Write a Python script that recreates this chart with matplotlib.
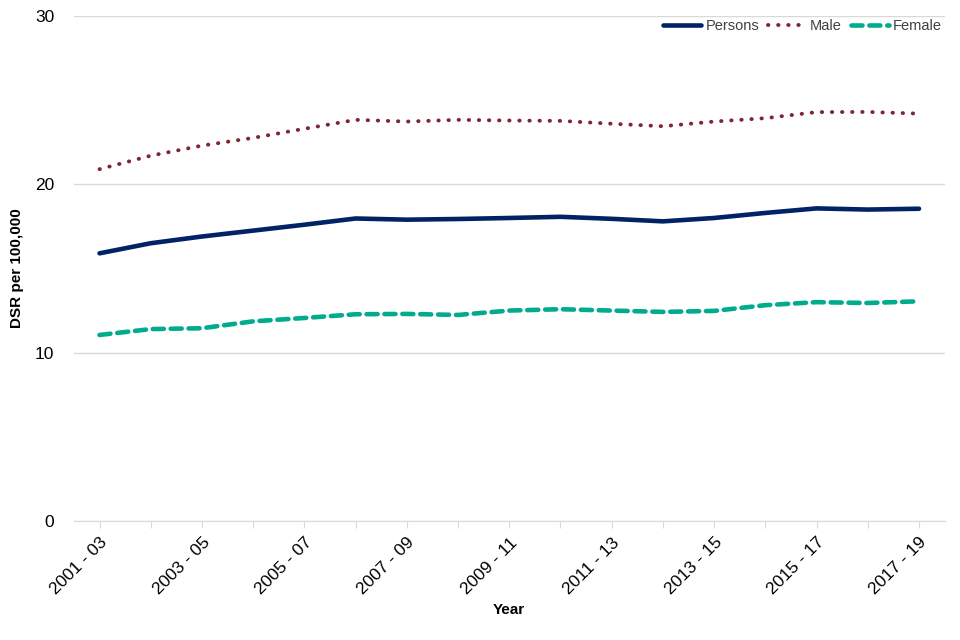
import matplotlib
matplotlib.use('Agg')
import matplotlib.pyplot as plt

# Three-year rolling periods
periods = ['2001 - 03', '2002 - 04', '2003 - 05', '2004 - 06', '2005 - 07',
           '2006 - 08', '2007 - 09', '2008 - 10', '2009 - 11', '2010 - 12',
           '2011 - 13', '2012 - 14', '2013 - 15', '2014 - 16', '2015 - 17',
           '2016 - 18', '2017 - 19']

# DSR per 100,000
persons = [15.9, 16.5, 16.9, 17.25, 17.6, 17.97, 17.9, 17.94, 18.0, 18.07,
           17.95, 17.8, 18.0, 18.3, 18.57, 18.5, 18.55]
male = [20.9, 21.7, 22.3, 22.76, 23.3, 23.83, 23.73, 23.83, 23.79, 23.77,
        23.6, 23.45, 23.73, 23.93, 24.29, 24.3, 24.2]
female = [11.05, 11.4, 11.45, 11.86, 12.06, 12.28, 12.3, 12.24, 12.5, 12.58,
          12.5, 12.42, 12.48, 12.82, 13.0, 12.95, 13.05]

plt.rcParams['font.family'] = ['Liberation Sans', 'DejaVu Sans']

fig = plt.figure(figsize=(9.6, 6.4), dpi=100)
ax = fig.add_axes([0.077, 0.186, 0.907, 0.789])

x = list(range(len(periods)))
ax.plot(x, persons, color='#002366', lw=3.3, solid_capstyle='round', label='Persons')
ax.plot(x, male, color='#7f2635', lw=2.8, linestyle=(0, (0.1, 2.5)),
        dash_capstyle='round', label='Male')
ax.plot(x, female, color='#00ab8e', lw=3.3, linestyle=(0, (2.4, 1.5)),
        dash_capstyle='round', label='Female')

ax.set_xlim(-0.5, len(periods) - 0.5)
ax.set_ylim(0, 30)
ax.set_yticks([0, 10, 20, 30])
ax.grid(axis='y', color='#d9d9d9', lw=1)
ax.set_axisbelow(True)

ax.set_xticks(x)
ax.set_xticklabels([p if i % 2 == 0 else '' for i, p in enumerate(periods)],
                   rotation=45, ha='right', rotation_mode='anchor', fontsize=12.5)
ax.tick_params(axis='x', length=5, color='#d9d9d9', pad=5)
ax.tick_params(axis='y', length=0, labelsize=12.5, pad=14)

for s in ['top', 'right', 'left']:
    ax.spines[s].set_visible(False)
ax.spines['bottom'].set_color('#d9d9d9')

ax.set_xlabel('Year', fontsize=11, fontweight='bold', labelpad=4)
ax.set_ylabel('DSR per 100,000', fontsize=11, fontweight='bold', labelpad=8)

leg = ax.legend(loc='upper right', ncol=3, frameon=False, fontsize=10.5,
                handlelength=2.6, columnspacing=0.6, handletextpad=0.3,
                bbox_to_anchor=(1.012, 1.02))
for t in leg.get_texts():
    t.set_color('#404040')

fig.savefig('out.png', dpi=100)
